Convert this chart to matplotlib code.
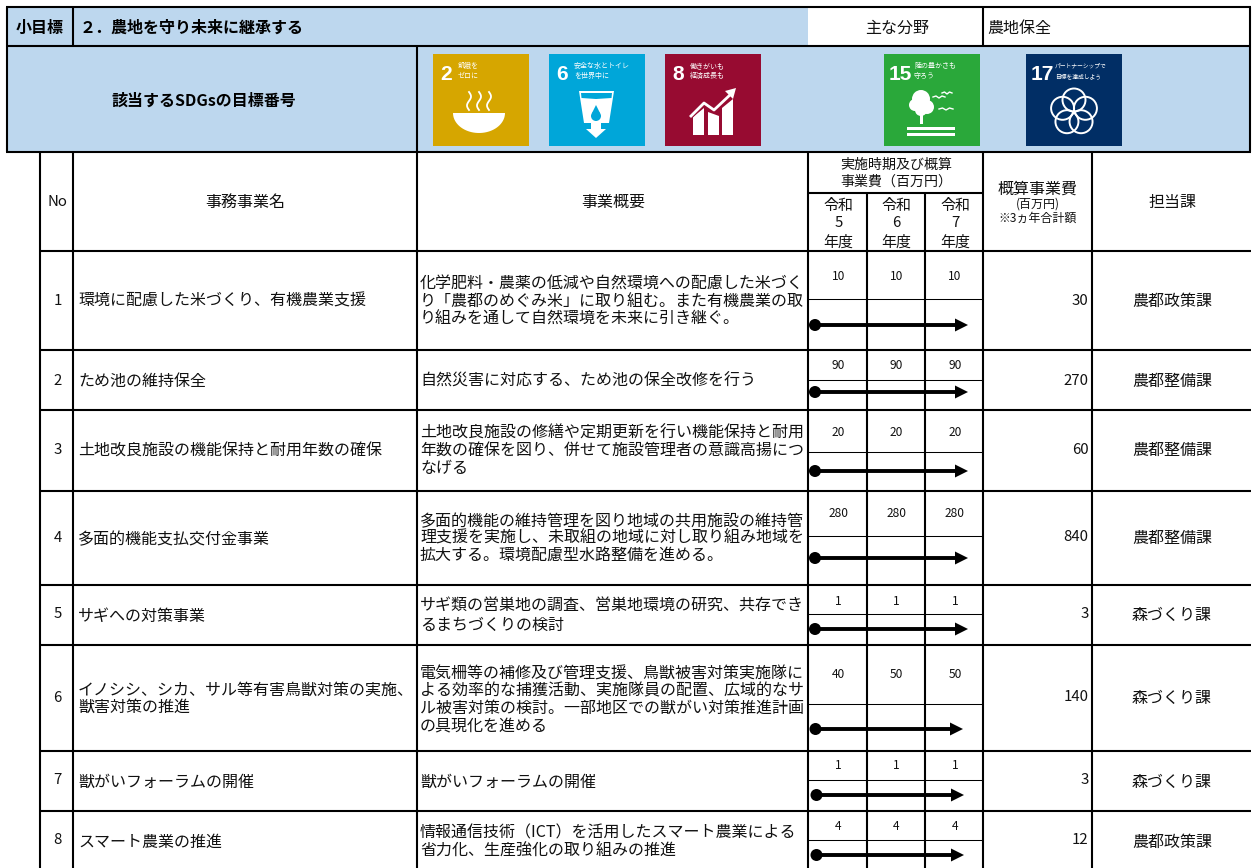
import numpy as np
import matplotlib
matplotlib.use('Agg')
import matplotlib.pyplot as plt
from matplotlib.patches import Rectangle, Polygon, Circle

plt.rcParams['font.family'] = ['Noto Sans CJK JP', 'DejaVu Sans']

# table contents
nos = ['1', '2', '3', '4', '5', '6', '7', '8']
names = [
    ['環境に配慮した米づくり、有機農業支援'],
    ['ため池の維持保全'],
    ['土地改良施設の機能保持と耐用年数の確保'],
    ['多面的機能支払交付金事業'],
    ['サギへの対策事業'],
    ['イノシシ、シカ、サル等有害鳥獣対策の実施、', '獣害対策の推進'],
    ['獣がいフォーラムの開催'],
    ['スマート農業の推進'],
]
summaries = [
    ['化学肥料・農薬の低減や自然環境への配慮した米づく', 'り「農都のめぐみ米」に取り組む。また有機農業の取', 'り組みを通して自然環境を未来に引き継ぐ。'],
    ['自然災害に対応する、ため池の保全改修を行う'],
    ['土地改良施設の修繕や定期更新を行い機能保持と耐用', '年数の確保を図り、併せて施設管理者の意識高揚につ', 'なげる'],
    ['多面的機能の維持管理を図り地域の共用施設の維持管', '理支援を実施し、未取組の地域に対し取り組み地域を', '拡大する。環境配慮型水路整備を進める。'],
    ['サギ類の営巣地の調査、営巣地環境の研究、共存でき', 'るまちづくりの検討'],
    ['電気柵等の補修及び管理支援、鳥獣被害対策実施隊に', 'よる効率的な捕獲活動、実施隊員の配置、広域的なサ', 'ル被害対策の検討。一部地区での獣がい対策推進計画', 'の具現化を進める'],
    ['獣がいフォーラムの開催'],
    ['情報通信技術（ICT）を活用したスマート農業による', '省力化、生産強化の取り組みの推進'],
]
cost_r5 = [10, 90, 20, 280, 1, 40, 1, 4]
cost_r6 = [10, 90, 20, 280, 1, 50, 1, 4]
cost_r7 = [10, 90, 20, 280, 1, 50, 1, 4]
totals = [30, 270, 60, 840, 3, 140, 3, 12]
depts = ['農都政策課', '農都整備課', '農都整備課', '農都整備課', '森づくり課', '森づくり課', '森づくり課', '農都政策課']
years = ['5', '6', '7']

# layout in pixels
row_lines = [250.5, 350, 410, 491, 585, 644.5, 751, 811]
sub_lines = [299, 380, 452, 536, 614, 704, 780, 840]
arrow_y = [325, 392, 471, 558, 629, 729, 795, 855]
arrow_x0 = [815, 815, 815, 815, 815, 815.5, 816.5, 816.5]
arrow_x1 = [968, 968, 968, 968, 968, 963, 964, 964]
name_y = [[300], [380], [450], [538], [615], [689, 706], [781], [841]]
summary_y = [[283, 300, 318], [380], [432, 449, 467], [520, 537, 554], [605, 624],
             [673, 690, 707, 725], [781], [832, 850]]
no_y = [300, 380, 449, 537, 613, 697, 779, 839]
cost_y = [276, 365, 432, 513, 601, 674, 765, 826]
total_y = [300, 380, 449, 536, 613, 696, 779, 839]
dept_y = [300, 380, 449, 537, 614, 697, 781, 841]
year_x = [838.5, 896.5, 955]

BLUE = '#BDD7EE'
LW = 1.5

fig = plt.figure(figsize=(12.55, 8.68), dpi=100)
ax = fig.add_axes([0, 0, 1, 1])
ax.set_xlim(0, 1255)
ax.set_ylim(868, 0)
ax.axis('off')


def px(size):
    return size * 0.72


def label(x, y, s, size=16, ha='center', **kw):
    # baseline sits a little under the visual centre of the glyphs
    ax.text(x, y + size * 0.36, s, fontsize=px(size), ha=ha, va='baseline', color=kw.pop('color', '#111111'), **kw)


def hline(y, x0, x1, lw=LW):
    ax.plot([x0, x1], [y, y], color='black', lw=lw, solid_capstyle='butt', zorder=3)


def vline(x, y0, y1, lw=LW):
    ax.plot([x, x], [y0, y1], color='black', lw=lw, solid_capstyle='butt', zorder=3)


# blue header bands
ax.add_patch(Rectangle((7, 7), 801, 39, fc=BLUE, ec='none'))
ax.add_patch(Rectangle((7, 46), 1243, 106, fc=BLUE, ec='none'))

hline(7, 6, 1251)
hline(46, 7, 1250)
hline(152, 6, 1251)
vline(7, 7, 152)
vline(1250, 7, 152)
vline(73, 7, 46)
vline(983, 7, 46)
vline(417, 46, 152)

label(40, 27, '小目標', weight='bold', color='black')
label(80, 27, '２．農地を守り未来に継承する', ha='left', weight='bold', color='black')
label(897, 27, '主な分野')
label(987, 27, '農地保全', ha='left')
label(204, 100, '該当するSDGsの目標番号', weight='bold', color='black')


# SDG icons
def icon(x0, colour, num, line1, line2, numx=7, textx=25, small=7):
    ax.add_patch(Rectangle((x0, 54), 95.5, 92, fc=colour, ec='none', zorder=2))
    ax.text(x0 + numx, 80, num, fontsize=px(21), color='white', weight='bold', ha='left', va='baseline',
            family=['Liberation Sans', 'DejaVu Sans'], zorder=4)
    ax.text(x0 + textx, 66, line1, fontsize=px(small), color='white', ha='left', va='center', zorder=4)
    ax.text(x0 + textx, 76, line2, fontsize=px(small), color='white', ha='left', va='center', zorder=4)


icon(433, '#D6A600', '2', '飢餓を', 'ゼロに')
icon(549, '#00A6D9', '6', '安全な水とトイレ', 'を世界中に')
icon(665, '#970B31', '8', '働きがいも', '経済成長も')
icon(884, '#2AA83A', '15', '陸の豊かさも', '守ろう', numx=5, textx=30)
icon(1026, '#012E65', '17', 'パートナーシップで', '目標を達成しよう', numx=5, textx=29, small=5.8)

# goal 2: bowl and steam
t = np.linspace(0, np.pi, 40)
bowl = np.column_stack([479 + 26 * np.cos(t), 113 + 20 * np.sin(t)])
ax.add_patch(Polygon(bowl, fc='white', ec='none', zorder=4))
for sx in [469, 479, 489]:
    sy = np.linspace(92, 110, 30)
    ax.plot(sx + 2 * np.sin((sy - 92) / 18 * 2 * np.pi), sy, color='white', lw=1.3, zorder=4)

# goal 6: cup with drop
ax.add_patch(Polygon([(579, 91), (614, 91), (609, 123), (601, 123), (601, 129), (606, 129), (596, 138),
                      (586, 129), (591, 129), (591, 123), (584, 123)], fc='white', ec='none', zorder=4))
ax.add_patch(Polygon([(581, 93), (612, 93), (611.5, 98), (596, 99), (581.5, 98)], fc='#00A6D9', ec='none', zorder=5))
ax.add_patch(Circle((596, 116), 5, fc='#00A6D9', ec='none', zorder=5))
ax.add_patch(Polygon([(592, 113), (600, 113), (596, 105)], fc='#00A6D9', ec='none', zorder=5))

# goal 8: bars and rising arrow
ax.add_patch(Polygon([(693, 135), (693, 117), (704, 108), (704, 135)], fc='white', ec='none', zorder=4))
ax.add_patch(Polygon([(708, 135), (708, 112), (719, 116), (719, 135)], fc='white', ec='none', zorder=4))
ax.add_patch(Polygon([(722, 135), (722, 108), (733, 99), (733, 135)], fc='white', ec='none', zorder=4))
ax.plot([691, 704, 714, 731], [116, 103, 110, 94], color='#970B31', lw=3.5, zorder=5)
ax.plot([691, 704, 714, 731], [116, 103, 110, 94], color='white', lw=2, zorder=6)
ax.add_patch(Polygon([(736, 88), (733, 99), (725, 91)], fc='white', ec='none', zorder=6))

# goal 15: tree, birds, ground
for cx, cy, r in [(921, 99, 9), (915, 105, 6), (927, 107, 7), (921, 110, 6)]:
    ax.add_patch(Circle((cx, cy), r, fc='white', ec='none', zorder=4))
ax.add_patch(Rectangle((920, 115), 3, 9, fc='white', ec='none', zorder=4))
ax.add_patch(Rectangle((907, 127), 47.5, 3, fc='white', ec='none', zorder=4))
ax.add_patch(Rectangle((907, 133), 47.5, 3, fc='white', ec='none', zorder=4))
for bx, by, bw in [(939, 97, 6), (947, 93, 5), (946, 109, 7)]:
    ax.plot([bx - bw, bx - bw / 2, bx, bx + bw / 2, bx + bw], [by, by - 1, by + 1, by - 1, by], color='white', lw=1, zorder=4)

# goal 17: five rings
for a in np.deg2rad([-90, -18, 54, 126, 198]):
    ax.add_patch(Circle((1074 + 12 * np.cos(a), 112 + 12 * np.sin(a)), 11.5, fc='none', ec='white', lw=1.4, zorder=4))

# table grid
for y in row_lines:
    hline(y, 39, 1251)
for x in [40, 73, 417, 808, 983, 1092]:
    vline(x, 152, 868)
for x in [867, 925]:
    vline(x, 193, 868)
hline(193, 808, 983)
for y in sub_lines:
    hline(y, 808, 983, lw=0.75)

# table header
label(57, 201, 'No', size=15)
label(245, 201, '事務事業名')
label(613, 201, '事業概要')
label(896, 164, '実施時期及び概算', size=14)
label(896, 181, '事業費（百万円）', size=14)
for x, yr in zip(year_x, years):
    label(x, 205, '令和', size=15)
    label(x, 222, yr, size=15)
    label(x, 241, '年度', size=15)
label(1038, 188, '概算事業費')
label(1038, 203, '(百万円)', size=12)
label(1038, 217, '※3ヵ年合計額', size=12)
label(1172, 201, '担当課')

# table rows
for i in range(len(nos)):
    label(57.5, no_y[i], nos[i], size=15)
    for y, s in zip(name_y[i], names[i]):
        label(78, y, s, ha='left')
    for y, s in zip(summary_y[i], summaries[i]):
        label(420, y, s, ha='left')
    for x, v in zip(year_x, [cost_r5[i], cost_r6[i], cost_r7[i]]):
        label(x, cost_y[i], str(v), size=12)
    label(1088.5, total_y[i], str(totals[i]), size=15, ha='right')
    label(1172, dept_y[i], depts[i])

    # period arrow
    y = arrow_y[i]
    ax.plot([arrow_x0[i], arrow_x1[i] - 10], [y, y], color='black', lw=2.8, solid_capstyle='butt', zorder=6)
    ax.add_patch(Circle((arrow_x0[i], y), 6, fc='black', ec='none', zorder=6))
    ax.add_patch(Polygon([(arrow_x1[i] - 13, y - 6.5), (arrow_x1[i], y), (arrow_x1[i] - 13, y + 6.5)], fc='black', ec='none', zorder=6))

fig.savefig('out.png', dpi=100, facecolor='white')
